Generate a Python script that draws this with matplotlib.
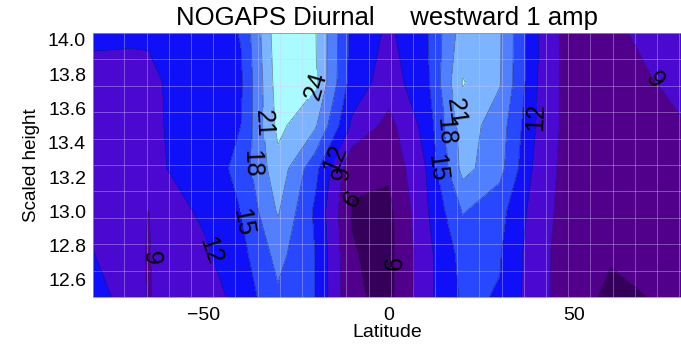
import numpy as np
import matplotlib
matplotlib.use('Agg')
import matplotlib.pyplot as plt

plt.rcParams['font.family'] = ['Liberation Sans', 'DejaVu Sans']

# latitude columns and scaled-height rows of the amplitude field
lats = [-80, -70, -65, -60, -50, -40, -30, -20, -10, 0, 10, 20, 30, 40, 50, 60, 70, 80]
heights = [12.5, 12.75, 13.0, 13.25, 13.5, 13.75, 14.05]

amp_1250 = [13.5, 10.5, 8.8, 10.0, 10.5, 13.0, 17.5, 15.0, 6.5, 5.2, 11.0, 15.5, 14.8, 10.0, 7.2, 5.3, 6.0, 7.5]
amp_1275 = [12.1, 10.0, 8.8, 10.2, 11.5, 14.0, 19.0, 15.0, 6.2, 5.0, 11.0, 16.0, 15.2, 10.0, 7.3, 6.3, 6.5, 7.5]
amp_1300 = [11.5, 10.5, 8.95, 10.8, 12.5, 15.0, 21.3, 14.5, 5.8, 5.2, 11.5, 18.2, 16.0, 10.5, 7.3, 7.5, 7.5, 7.5]
amp_1325 = [11.0, 11.0, 10.5, 12.0, 13.0, 16.0, 23.0, 16.0, 6.5, 6.5, 12.0, 22.0, 19.0, 11.0, 7.3, 7.7, 7.7, 8.0]
amp_1350 = [11.0, 11.0, 11.0, 12.2, 13.0, 15.0, 24.8, 21.5, 11.5, 8.0, 13.0, 22.5, 19.5, 11.8, 7.2, 7.8, 8.0, 8.9]
amp_1375 = [11.2, 11.0, 11.0, 12.3, 13.0, 14.5, 25.5, 24.5, 13.6, 10.6, 14.0, 24.2, 21.2, 12.1, 7.0, 8.0, 8.7, 9.9]
amp_1405 = [12.5, 12.5, 12.6, 12.8, 13.0, 15.2, 26.0, 24.3, 14.2, 11.5, 14.5, 22.5, 21.3, 12.3, 7.0, 8.3, 9.8, 10.8]

amp = np.array([amp_1250, amp_1275, amp_1300, amp_1325, amp_1350, amp_1375, amp_1405])

levels = np.arange(0, 28, 3)
band_colors = ['#200038', '#34005a', '#50008a', '#4a08d0', '#1010f8',
               '#2848ff', '#5080ff', '#7cb4ff', '#a8fcff']

# where the contour values get written
label_spots = {
    24: [(-21, 13.74)],
    21: [(-35.8, 13.51), (21.6, 13.59)],
    18: [(-39.9, 13.28), (17.2, 13.47)],
    15: [(-41.2, 12.93), (16.2, 13.26)],
    12: [(-49.3, 12.76), (-15.0, 13.31), (37.7, 13.55)],
    9: [(-63.4, 12.73), (-13.0, 13.22), (72.0, 13.77)],
    6: [(-11.5, 13.11), (4.6, 12.70)],
}

fig = plt.figure(figsize=(6.81, 3.5), dpi=100)
ax = fig.add_axes([93 / 681, 1 - 297 / 350, (681 - 93) / 681, (297 - 33) / 350])

ax.contourf(lats, heights, amp, levels=levels, colors=band_colors)
for lev in levels[1:-1]:
    cs = ax.contour(lats, heights, amp, levels=[lev],
                    colors=[(0.1, 0.1, 0.23, 0.55)], linewidths=0.5)
    if lev in label_spots:
        ax.clabel(cs, manual=label_spots[lev], fmt='%d', fontsize=18,
                  colors='k', inline=True, inline_spacing=2)

ax.set_xlim(-80, 79)
ax.set_ylim(12.5, 14.04)
ax.set_xticks([-50, 0, 50])
ax.set_yticks(np.round(np.arange(12.6, 14.01, 0.2), 1))
ax.set_yticklabels(['%.1f' % v for v in np.arange(12.6, 14.01, 0.2)])
ax.set_xticks(np.arange(-71.5, 80, 6), minor=True)
ax.set_yticks(12.5 + 0.154 * np.arange(1, 10), minor=True)
ax.grid(which='minor', color='#d8c8ff', linewidth=0.6, alpha=0.45)
ax.tick_params(which='both', length=0, labelsize=14)
ax.tick_params(axis='x', pad=7)
ax.tick_params(axis='y', pad=5)
for s in ax.spines.values():
    s.set_color('#9090b0')
    s.set_linewidth(0.6)

ax.set_xlabel('Latitude', fontsize=14, labelpad=0)
ax.set_ylabel('Scaled height', fontsize=13.5, labelpad=6)
ax.set_title('NOGAPS Diurnal     westward 1 amp', fontsize=18.5, pad=6)

fig.savefig('out.png', dpi=100)
